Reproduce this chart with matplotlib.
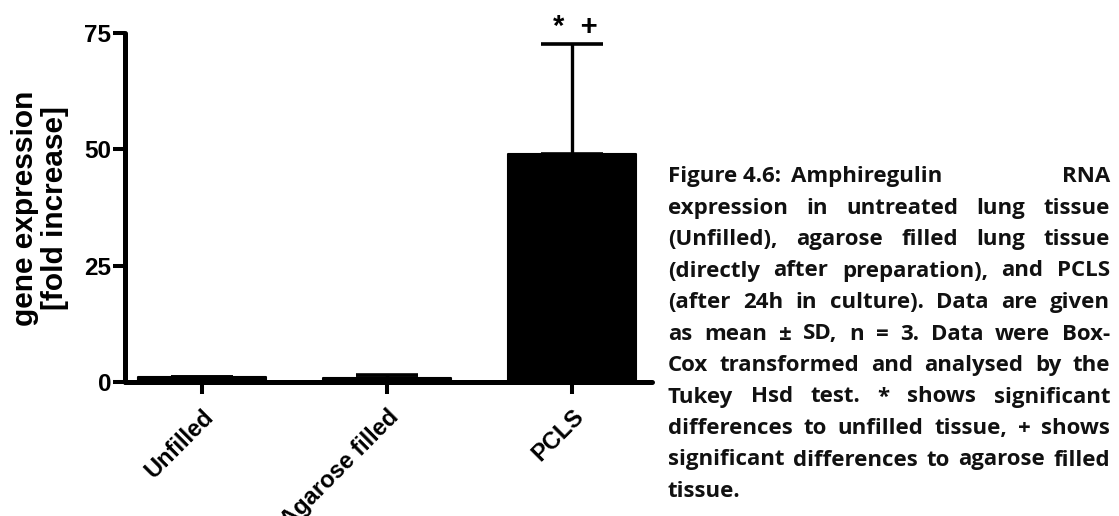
import matplotlib
matplotlib.use("Agg")
import matplotlib.pyplot as plt
from matplotlib import font_manager as fm
import numpy as np

categories = ["Unfilled", "Agarose filled", "PCLS"]
means = [1.0, 0.85, 49.0]
sds = [0.1, 0.55, 23.7]
yticks = [0, 25, 50, 75]
signif = "*  +"
ylabel = "gene expression\n[fold increase]"
caption_lines = [
    "expression in untreated lung tissue",
    "(Unfilled), agarose filled lung tissue",
    "(directly after preparation), and PCLS",
    "(after 24h in culture). Data are given",
    "as mean \u00b1 SD, n = 3. Data were Box-",
    "Cox transformed and analysed by the",
    "Tukey Hsd test. * shows significant",
    "differences to unfilled tissue, + shows",
    "significant differences to agarose filled",
    "tissue.",
]
caption_head = "Figure 4.6:"
caption_first = ["Amphiregulin", "RNA"]

W, H = 1119, 516
fig = plt.figure(figsize=(W / 100, H / 100), dpi=100)
fig.patch.set_facecolor("white")

def fx(px):
    return px / W

def fy(py):
    return 1 - py / H

ax = fig.add_axes([fx(125), fy(382), fx(652) - fx(125), fy(33) - fy(382)])
x = np.arange(len(categories))
ax.bar(x, means, width=0.69, color="black", edgecolor="black", linewidth=1.5,
       joinstyle="round", zorder=2)
ax.errorbar(x, means, yerr=[np.zeros(len(sds)), sds], fmt="none", ecolor="black",
            elinewidth=2.4, capsize=22, capthick=2.6, zorder=3)
ax.set_xlim(-0.416, 2.432)
ax.set_ylim(0, 75)
ax.set_yticks(yticks)
ax.set_yticklabels([str(v) for v in yticks])
ax.set_xticks(x)
ax.set_xticklabels(categories, rotation=45, ha="right", va="top",
                   rotation_mode="anchor")
for s in ["top", "right"]:
    ax.spines[s].set_visible(False)
for s in ["left", "bottom"]:
    ax.spines[s].set_linewidth(3.6)
    ax.spines[s].set_capstyle("round")
ax.tick_params(axis="both", length=8.5, width=2.9, color="black")
ax.tick_params(axis="y", pad=1.5)
ax.tick_params(axis="x", pad=8)
for lab in ax.get_yticklabels():
    lab.set_fontfamily("Liberation Sans")
    lab.set_fontweight("bold")
    lab.set_fontsize(17.5)
for lab in ax.get_xticklabels():
    lab.set_fontfamily("Liberation Sans")
    lab.set_fontweight("bold")
    lab.set_fontsize(17)

ax.annotate(signif, xy=(x[2], means[2] + sds[2]), xytext=(2, 2),
            textcoords="offset points", ha="center", va="bottom",
            fontsize=21, fontweight="bold", fontfamily="Liberation Sans",
            annotation_clip=False)

fig.text(fx(40), fy(208), ylabel, rotation=90, ha="center", va="center",
         multialignment="center", fontsize=21.5, fontweight="bold",
         fontfamily="Liberation Sans", linespacing=1.05)

# caption fonts
cap_size = 16
cap_prop = fm.FontProperties(family="Open Sans", weight="bold", size=cap_size)
head_prop = fm.FontProperties(family="Open Sans", weight="bold", size=cap_size)

renderer = fig.canvas.get_renderer()
cap_color = "#111111"
left_px, right_px = 668, 1110
base0, step = 182, 31.5

def width_px(s, prop):
    t = fig.text(0, 0, s, fontproperties=prop)
    w = t.get_window_extent(renderer).width
    t.remove()
    return w

def place(s, xp, yp, prop, ha="left"):
    fig.text(fx(xp), fy(yp), s, ha=ha, va="baseline", fontproperties=prop,
             color=cap_color)

place(caption_head, left_px, base0, head_prop)
hw = width_px(caption_head, head_prop)
sp = width_px("a a", cap_prop) - width_px("aa", cap_prop)
place(caption_first[0], left_px + hw + 1.8 * sp, base0, cap_prop)
place(caption_first[1], right_px, base0, cap_prop, ha="right")

for i, line in enumerate(caption_lines, start=1):
    yp = base0 + step * i
    words = line.split(" ")
    if i == len(caption_lines):
        place(line, left_px, yp, cap_prop)
        continue
    widths = [width_px(w, cap_prop) for w in words]
    gap = (right_px - left_px - sum(widths)) / (len(words) - 1)
    xp = left_px
    for w, wd in zip(words, widths):
        place(w, xp, yp, cap_prop)
        xp += wd + gap

fig.savefig("out.png", dpi=100, facecolor="white")
